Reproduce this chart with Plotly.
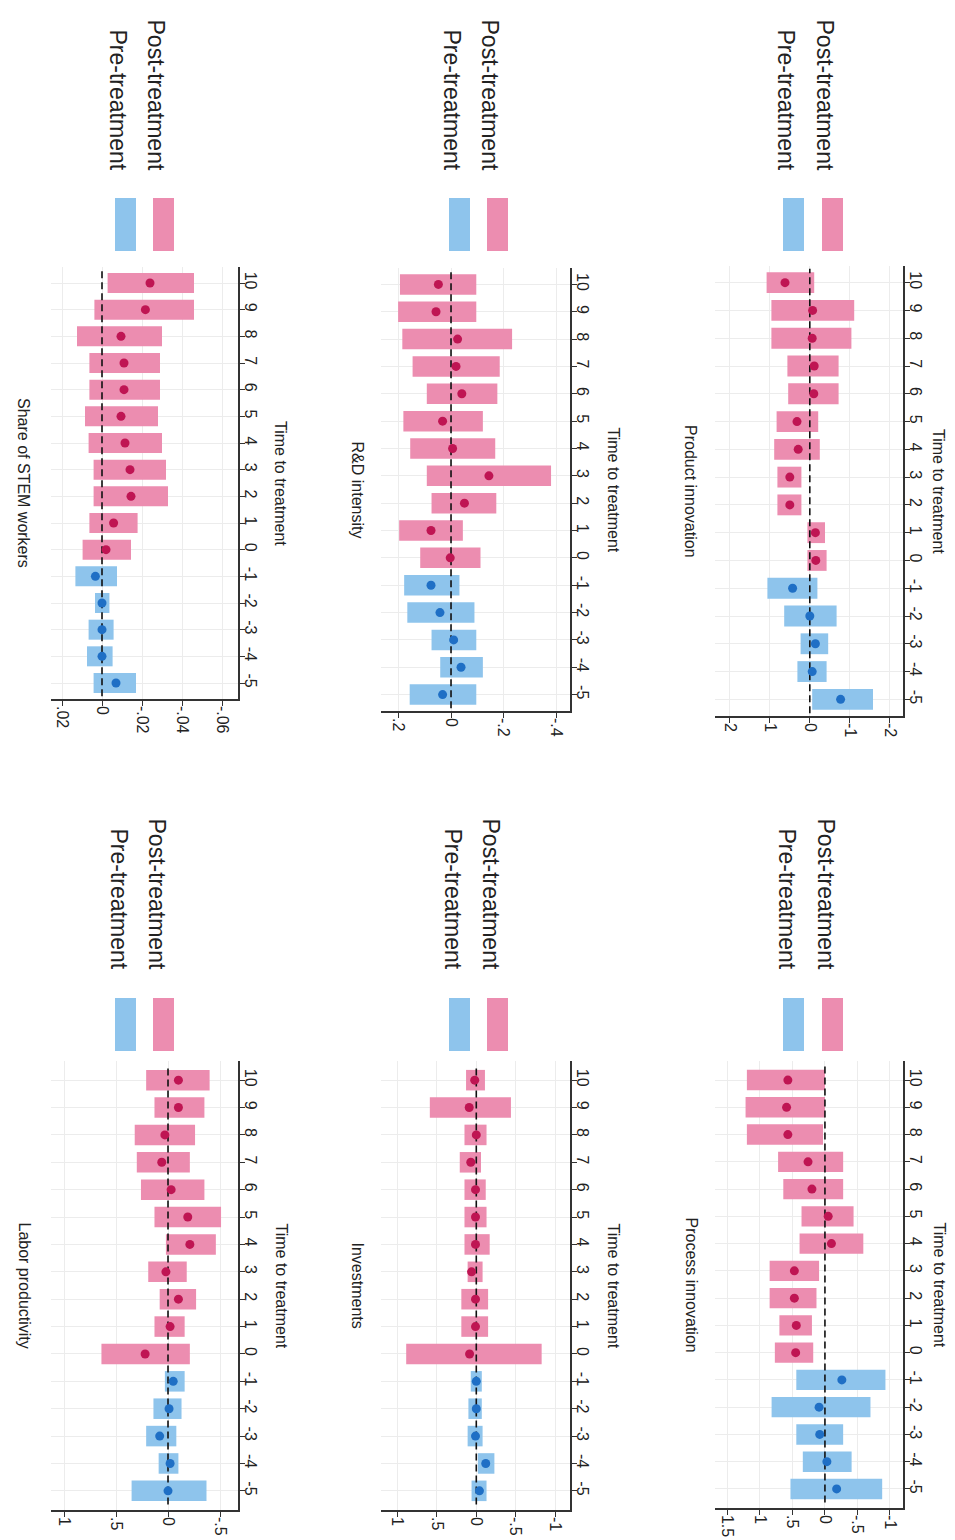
import plotly.graph_objects as go

W, H = 955, 1540

times = list(range(-5, 11))
tick_times = list(range(-5, 11))

# ---- data (point estimate, upper CI, lower CI) ----
lp_est = [0.00, -0.02, 0.08, -0.01, -0.05, 0.22, -0.02, -0.10, 0.02, -0.21, -0.19, -0.03, 0.06, 0.03, -0.10, -0.10]
lp_hi = [0.35, 0.09, 0.21, 0.14, 0.03, 0.64, 0.13, 0.08, 0.19, 0.02, 0.13, 0.26, 0.30, 0.32, 0.13, 0.21]
lp_lo = [-0.37, -0.10, -0.08, -0.13, -0.16, -0.21, -0.16, -0.27, -0.18, -0.46, -0.51, -0.35, -0.21, -0.26, -0.35, -0.40]

inv_est = [-0.04, -0.12, 0.01, 0.00, 0.00, 0.085, 0.01, 0.01, 0.06, 0.01, 0.01, 0.01, 0.07, 0.00, 0.09, 0.02]
inv_hi = [0.06, -0.02, 0.11, 0.10, 0.07, 0.89, 0.19, 0.19, 0.11, 0.15, 0.15, 0.15, 0.21, 0.15, 0.59, 0.13]
inv_lo = [-0.13, -0.23, -0.08, -0.07, -0.07, -0.83, -0.15, -0.15, -0.08, -0.17, -0.13, -0.12, -0.06, -0.13, -0.44, -0.11]

pi_est = [-0.18, -0.03, 0.08, 0.09, -0.26, 0.45, 0.44, 0.47, 0.47, -0.10, -0.05, 0.20, 0.26, 0.57, 0.59, 0.57]
pi_hi = [0.53, 0.34, 0.44, 0.82, 0.44, 0.77, 0.70, 0.85, 0.85, 0.39, 0.36, 0.64, 0.72, 1.20, 1.22, 1.20]
pi_lo = [-0.88, -0.41, -0.28, -0.70, -0.93, 0.18, 0.20, 0.13, 0.09, -0.59, -0.44, -0.28, -0.28, 0.03, 0.00, 0.00]

stem_est = [-0.007, 0.0, 0.0, 0.0, 0.0033, -0.002, -0.0058, -0.0145, -0.014, -0.0115, -0.0095, -0.011, -0.011, -0.0095, -0.0217, -0.024]
stem_hi = [0.0042, 0.0075, 0.0067, 0.0035, 0.0133, 0.0097, 0.0063, 0.0042, 0.0042, 0.0067, 0.0085, 0.0063, 0.0063, 0.0125, 0.0038, -0.0028]
stem_lo = [-0.017, -0.0053, -0.0058, -0.0037, -0.0075, -0.0145, -0.0178, -0.033, -0.032, -0.030, -0.028, -0.029, -0.029, -0.030, -0.046, -0.046]

rd_est = [0.032, -0.038, -0.010, 0.042, 0.076, 0.003, 0.076, -0.051, -0.144, -0.006, 0.032, -0.041, -0.019, -0.025, 0.057, 0.048]
rd_hi = [0.157, 0.041, 0.074, 0.166, 0.178, 0.117, 0.197, 0.074, 0.092, 0.155, 0.181, 0.092, 0.146, 0.185, 0.201, 0.194]
rd_lo = [-0.096, -0.121, -0.096, -0.089, -0.032, -0.112, -0.045, -0.172, -0.380, -0.168, -0.121, -0.176, -0.185, -0.232, -0.096, -0.096]

pd_est = [-0.77, -0.06, -0.14, 0.0, 0.43, -0.15, -0.14, 0.50, 0.50, 0.29, 0.32, -0.10, -0.11, -0.06, -0.07, 0.62]
pd_hi = [-0.06, 0.31, 0.23, 0.64, 1.06, 0.06, 0.06, 0.81, 0.81, 0.89, 0.83, 0.54, 0.56, 0.96, 0.96, 1.08]
pd_lo = [-1.58, -0.42, -0.46, -0.67, -0.19, -0.42, -0.38, 0.21, 0.21, -0.25, -0.21, -0.72, -0.72, -1.04, -1.11, -0.11]

titles = ["Labor productivity", "Investments", "Process innovation",
          "Share of STEM workers", "R&D intensity", "Product innovation"]
legend_labels = ["Pre-treatment", "Post-treatment"]
axis_title = "Time to treatment"

val_ticks = [
    ([1, 0.5, 0, -0.5], ["1", ".5", "0", "-.5"]),
    ([1, 0.5, 0, -0.5, -1], ["1", ".5", "0", "-.5", "-1"]),
    ([1.5, 1, 0.5, 0, -0.5, -1], ["1.5", "1", ".5", "0", "-.5", "-1"]),
    ([0.02, 0, -0.02, -0.04, -0.06], [".02", "0", "-.02", "-.04", "-.06"]),
    ([0.2, 0, -0.2, -0.4], [".2", "0", "-.2", "-.4"]),
    ([2, 1, 0, -1, -2], ["2", "1", "0", "-1", "-2"]),
]

series = [
    (lp_est, lp_hi, lp_lo), (inv_est, inv_hi, inv_lo), (pi_est, pi_hi, pi_lo),
    (stem_est, stem_hi, stem_lo), (rd_est, rd_hi, rd_lo), (pd_est, pd_hi, pd_lo),
]

# ---- layout geometry (pixels) ----
xspans = [(43, 230), (373, 562), (707, 895), (43, 230), (373, 562), (707, 895)]
yspans = [(1053, 1502), (1053, 1502), (1053, 1500), (259, 691), (260, 703), (258, 708)]
vranges = [(1.125, -0.673), (1.21, -1.19), (1.69, -1.2),
           (0.0255, -0.068), (0.266, -0.452), (2.37, -2.33)]
tranges = [(-5.7, 10.7)] * 3 + [(-5.6, 10.6)] * 3
# annotation anchors (rotated text renders ~7px to the right of its anchor)
axis_title_x = [273, 605, 931, 273, 605, 931]
panel_title_x = [16, 349, 683, 16, 349, 683]

BLUE_BAR = "#8ec4ec"
PINK_BAR = "#ec8db0"
BLUE_PT = "#1f6fc5"
PINK_PT = "#bf1553"
FONT = "Liberation Sans, Arial, sans-serif"
TXT = "#222222"


def px(x):
    return x / W


def py(y):
    return 1 - y / H


fig = go.Figure()
layout = dict(
    width=W, height=H, autosize=False,
    margin=dict(l=0, r=0, t=0, b=0),
    paper_bgcolor="white", plot_bgcolor="white",
    showlegend=False, barmode="overlay",
    font=dict(family=FONT, color=TXT),
)
annotations = []
shapes = []

for i in range(6):
    n = i + 1
    xa = "x" if n == 1 else f"x{n}"
    ya = "y" if n == 1 else f"y{n}"
    est, hi, lo = series[i]
    pre_idx = [k for k, t in enumerate(times) if t < 0]
    post_idx = [k for k, t in enumerate(times) if t >= 0]

    for idx, bar_col in [(pre_idx, BLUE_BAR), (post_idx, PINK_BAR)]:
        fig.add_trace(go.Bar(
            y=[times[k] for k in idx],
            x=[hi[k] - lo[k] for k in idx],
            base=[lo[k] for k in idx],
            orientation="h", width=0.75,
            marker=dict(color=bar_col, line=dict(width=0)),
            xaxis=xa, yaxis=ya, hoverinfo="skip",
        ))
    # zero reference line
    fig.add_trace(go.Scatter(
        x=[0, 0], y=[min(times) - 0.5, max(times) + 0.5],
        mode="lines", line=dict(color="#111111", width=1.6, dash="7px,4px"),
        xaxis=xa, yaxis=ya, hoverinfo="skip",
    ))
    for idx, pt_col in [(pre_idx, BLUE_PT), (post_idx, PINK_PT)]:
        fig.add_trace(go.Scatter(
            y=[times[k] for k in idx], x=[est[k] for k in idx],
            mode="markers", marker=dict(color=pt_col, size=9),
            xaxis=xa, yaxis=ya,
        ))

    x0, x1 = xspans[i]
    yt, yb = yspans[i]
    tv, tt = val_ticks[i]
    kx = "xaxis" if n == 1 else f"xaxis{n}"
    ky = "yaxis" if n == 1 else f"yaxis{n}"
    layout[kx] = dict(
        domain=[px(x0), px(x1)], anchor=ya, range=list(vranges[i]),
        tickvals=tv, ticktext=tt, tickangle=90,
        showline=True, linecolor="#333333", linewidth=1.5,
        ticks="outside", ticklen=5, tickcolor="#333333", tickwidth=1.3,
        showgrid=True, gridcolor="#ececec", gridwidth=1, zeroline=False,
        tickfont=dict(size=16, family=FONT, color=TXT),
        ticklabelstandoff=-3,
    )
    layout[ky] = dict(
        domain=[py(yb), py(yt)], anchor=xa, side="right", range=list(tranges[i]),
        tickvals=tick_times, ticktext=[str(t) for t in tick_times], tickangle=90,
        showline=True, linecolor="#333333", linewidth=1.5,
        ticks="outside", ticklen=5, tickcolor="#333333", tickwidth=1.3,
        showgrid=True, gridcolor="#ececec", gridwidth=1, zeroline=False,
        tickfont=dict(size=16, family=FONT, color=TXT),
        ticklabelstandoff=-6,
    )

    t0, t1 = tranges[i]
    ymid = yb - (2.5 - t0) / (t1 - t0) * (yb - yt)
    annotations.append(dict(
        text=titles[i], textangle=90, xref="paper", yref="paper",
        x=px(panel_title_x[i]), y=py(ymid), xanchor="center", yanchor="middle",
        showarrow=False, font=dict(size=16, family=FONT, color=TXT),
    ))
    annotations.append(dict(
        text=axis_title, textangle=90, xref="paper", yref="paper",
        x=px(axis_title_x[i]), y=py(ymid), xanchor="center", yanchor="middle",
        showarrow=False, font=dict(size=16, family=FONT, color=TXT),
    ))

# ---- legends (one per panel, drawn rotated) ----
leg_cols = [(107, 145), (441, 479), (775, 814)]
leg_rows = [(990, 1043, 963), (190, 243, 164)]  # swatch top, swatch bottom, text end
for (st, sb, te) in leg_rows:
    for (xa_, xb_) in leg_cols:
        for xl, col, lab in [(xa_, BLUE_BAR, legend_labels[0]), (xb_, PINK_BAR, legend_labels[1])]:
            shapes.append(dict(
                type="rect", xref="paper", yref="paper",
                x0=px(xl), x1=px(xl + 21), y0=py(sb), y1=py(st),
                fillcolor=col, line=dict(width=0),
            ))
            annotations.append(dict(
                text=lab, textangle=90, xref="paper", yref="paper",
                x=px(xl + 3), y=py(te), xanchor="center", yanchor="bottom",
                showarrow=False, font=dict(size=23, family=FONT, color=TXT),
            ))

layout["annotations"] = annotations
layout["shapes"] = shapes
fig.update_layout(**layout)

fig.write_html("out.html")
